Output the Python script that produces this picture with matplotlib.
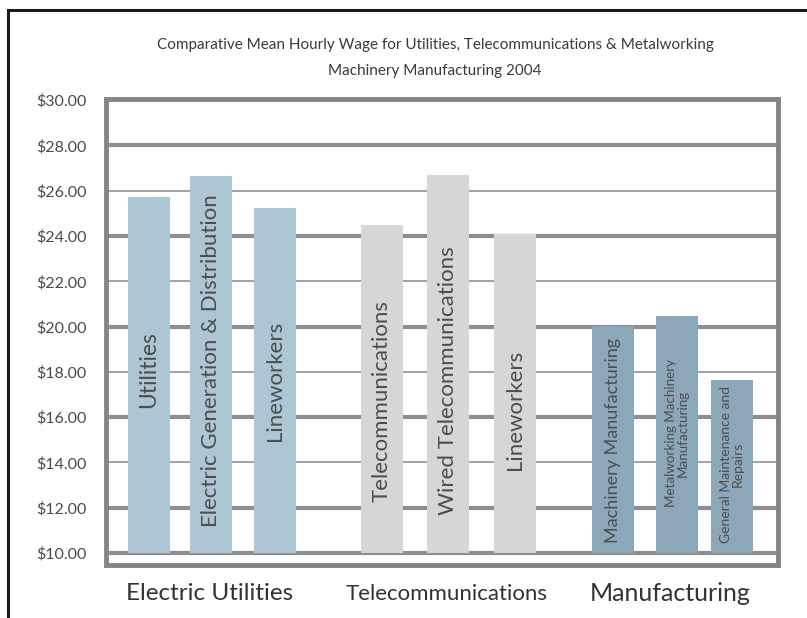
import matplotlib.pyplot as plt
from matplotlib.lines import Line2D

FONT = ["Lato", "DejaVu Sans"]

TITLE = ("Comparative Mean Hourly Wage for Utilities, Telecommunications & Metalworking\n"
         "Machinery Manufacturing 2004")

GROUPS = ["Electric Utilities", "Telecommunications", "Manufacturing"]
BAR_LABELS = [
    "Utilities", "Electric Generation & Distribution", "Lineworkers",
    "Telecommunications", "Wired Telecommunications", "Lineworkers",
    "Machinery Manufacturing", "Metalworking Machinery\nManufacturing",
    "General Maintenance and\nRepairs",
]
WAGES = [25.72, 26.64, 25.23, 24.48, 26.69, 24.08, 20.02, 20.46, 17.64]
BAR_GROUP = [0, 0, 0, 1, 1, 1, 2, 2, 2]
YTICKS = [10, 12, 14, 16, 18, 20, 22, 24, 26, 28, 30]
YTICK_LABELS = [f"${v:.2f}" for v in YTICKS]
BASE = 10

# layout (axes x units = pixels from the left frame edge)
X_POS = [43, 105, 169, 276, 342, 409, 507, 571, 626]
BAR_W = 42
GROUP_X = [104, 341, 564]
GROUP_SIZE = [17.5, 16, 18]
LABEL_Y = [18.1, 18.5, 17.6, 16.7, 17.6, 16.3, 14.95, 15.3, 13.9]
LABEL_SIZE = [16.5, 16, 16, 16, 16, 16, 13, 9.6, 10]
COLORS = ["#adc6d4", "#d5d6d8", "#8ca7ba"]

W, H = 807, 618
fig = plt.figure(figsize=(W / 100, H / 100), dpi=100)
fig.patch.set_facecolor("white")

# outer black border (top and left)
fig.add_artist(Line2D([8 / W, 1], [1 - 10 / H, 1 - 10 / H], color="#1a1a1a", lw=2.2,
                      transform=fig.transFigure))
fig.add_artist(Line2D([8 / W, 8 / W], [0, 1 - 10 / H], color="#1a1a1a", lw=2.2,
                      transform=fig.transFigure))

left, right, top, bottom = 106, 778, 99, 565
ax = fig.add_axes([left / W, 1 - bottom / H, (right - left) / W, (bottom - top) / H])
ax.set_xlim(0, right - left)
ax.set_ylim(9.47, 30.05)

for v in YTICKS[:-1]:
    thick = (v % 4 == 0) or v == BASE
    ax.axhline(v, color="#8e8e90" if thick else "#9a9a9c", lw=3.0 if thick else 1.3, zorder=1)

ax.bar(X_POS, [w - BASE for w in WAGES], width=BAR_W, bottom=BASE,
       color=[COLORS[g] for g in BAR_GROUP], zorder=2)

for x, y, s, fs in zip(X_POS, LABEL_Y, BAR_LABELS, LABEL_SIZE):
    ax.text(x, y, s, rotation=90, ha="center", va="center", multialignment="center",
            fontsize=fs, color="#4d4d4d", family=FONT, zorder=3, linespacing=1.0)

for spine in ax.spines.values():
    spine.set_color("#858587")
    spine.set_linewidth(3.5)

ax.set_xticks([])
ax.set_yticks(YTICKS)
ax.set_yticklabels(YTICK_LABELS, family=FONT, fontsize=11.5, color="#4a4a4a")
ax.tick_params(axis="y", length=0, pad=14)

for x, g, fs in zip(GROUP_X, GROUPS, GROUP_SIZE):
    ax.text(x, 8.2, g, ha="center", va="center", fontsize=fs, color="#333333",
            family=FONT)

fig.text(435 / W, 1 - 58 / H, TITLE, ha="center", va="center", fontsize=11,
         color="#3a3a3a", family=FONT, linespacing=2.0)

fig.savefig("out.png", dpi=100, facecolor="white")
